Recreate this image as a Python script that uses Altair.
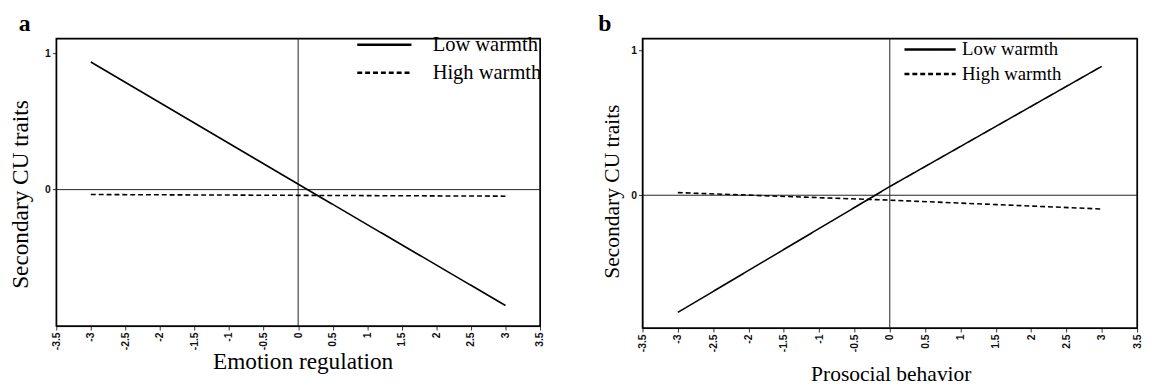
import altair as alt
import pandas as pd

# Panel a: Emotion regulation
a_x = [-3, 0, 3]
a_low = [0.935, 0.04, -0.849]
a_high = [-0.036, -0.042, -0.048]
# Panel b: Prosocial behavior
b_x = [-3, 0, 3]
b_low = [-0.81, 0.06, 0.891]
b_high = [0.018, -0.034, -0.095]

groups = ["Low warmth", "High warmth"]
x_ticks = [-3.5, -3, -2.5, -2, -1.5, -1, -0.5, 0, 0.5, 1, 1.5, 2, 2.5, 3, 3.5]
y_ticks = [0, 1]
x_range = [-3.5, 3.5]
a_yrange = [-1.0, 1.108]
b_yrange = [-0.918, 1.084]

SERIF = "Liberation Serif"
SANS = "Liberation Sans"


def make_df(xs, low, high):
    rows = []
    for x, v in zip(xs, low):
        rows.append({"x": x, "y": v, "g": groups[0]})
    for x, v in zip(xs, high):
        rows.append({"x": x, "y": v, "g": groups[1]})
    return pd.DataFrame(rows)


def panel(df, letter, letter_dx, xtitle, w, h, ydom, xtitle_pad, title_size, xtitle_x,
          ytitle_y, ytitle_pad, leg_x, leg_y, leg_size, leg_font, leg_row, leg_off):
    xs = alt.Scale(domain=x_range, nice=False, zero=False)
    ys = alt.Scale(domain=ydom, nice=False, zero=False)
    xaxis = alt.Axis(values=x_ticks, labelExpr="'' + datum.value", labelAngle=270,
                     title=xtitle, titleFont=SERIF, titleFontSize=title_size, titleFontWeight="normal",
                     titlePadding=xtitle_pad, titleColor="black", titleX=xtitle_x,
                     labelFont=SANS, labelFontSize=10.5, labelFontWeight="bold",
                     labelColor="#111", tickColor="#333", tickSize=4, grid=False,
                     domain=False, labelPadding=2)
    yaxis = alt.Axis(values=y_ticks, labelExpr="'' + datum.value", title="Secondary CU traits",
                     titleFont=SERIF, titleFontSize=title_size, titleFontWeight="normal",
                     titlePadding=ytitle_pad, titleY=ytitle_y, titleColor="black",
                     labelFont=SANS, labelFontSize=10.5, labelFontWeight="bold", labelColor="#111",
                     tickColor="#333", tickSize=4, grid=False,
                     domain=False, labelPadding=2)
    zero = pd.DataFrame({"z": [0]})
    box = pd.DataFrame({"x1": [x_range[0]], "x2": [x_range[1]], "y1": [ydom[0]], "y2": [ydom[1]]})
    frame = alt.Chart(box).mark_rect(filled=False, stroke="black", strokeWidth=1.5).encode(
        x=alt.X("x1:Q", scale=xs, axis=xaxis), x2="x2:Q",
        y=alt.Y("y1:Q", scale=ys, axis=yaxis), y2="y2:Q")
    vrule = alt.Chart(zero).mark_rule(color="#222", strokeWidth=1).encode(
        x=alt.X("z:Q", scale=xs, axis=xaxis))
    hrule = alt.Chart(zero).mark_rule(color="#222", strokeWidth=1).encode(
        y=alt.Y("z:Q", scale=ys, axis=yaxis))
    lines = alt.Chart(df).mark_line(color="black", strokeWidth=1.6).encode(
        x=alt.X("x:Q", scale=xs, axis=xaxis),
        y=alt.Y("y:Q", scale=ys, axis=yaxis),
        strokeDash=alt.StrokeDash(
            "g:N",
            scale=alt.Scale(domain=groups, range=[[1, 0], [5, 3]]),
            legend=alt.Legend(title=None, orient="none", legendX=leg_x, legendY=leg_y,
                              symbolType="M-2,0H2", symbolSize=leg_size, symbolStrokeWidth=2.6,
                              symbolStrokeColor="black", labelFont=SERIF, labelFontSize=leg_font,
                              labelColor="black", rowPadding=leg_row, labelOffset=leg_off,
                              padding=0),
        ),
        detail="g:N",
    )
    label = alt.Chart(zero).mark_text(
        text=letter, font=SERIF, fontSize=24, fontWeight="bold", align="left",
        baseline="top", color="black"
    ).encode(x=alt.value(letter_dx), y=alt.value(-27))
    return alt.layer(frame, vrule, hrule, lines, label).properties(width=w, height=h)


pa = panel(make_df(a_x, a_low, a_high), "a", -38, "Emotion regulation", 491, 292,
           a_yrange, 0, 23.6, 250, 158, 12, 317.5, -9, 756, 20.8, 2.4, 33.5)
pb = panel(make_df(b_x, b_low, b_high), "b", -45, "Prosocial behavior", 502, 294,
           b_yrange, 12, 21.8, 252, 155, 8, 277.4, -3.3, 676, 19, 0, 18)

chart = alt.hconcat(pa, pb, spacing=52).resolve_scale(
    x="independent", y="independent", strokeDash="independent"
).resolve_legend(strokeDash="independent").properties(
    padding=0, background="white"
).configure_view(stroke="black", strokeWidth=1)

chart.save("out.html", embed_options={"renderer": "svg", "actions": False})
